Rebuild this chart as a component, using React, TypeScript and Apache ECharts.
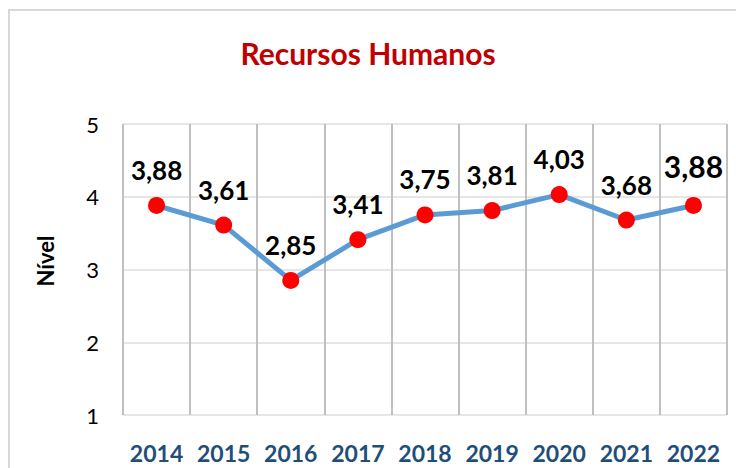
import React, { useEffect, useRef } from "react";
import * as echarts from "echarts";

const title = "Recursos Humanos";
const yAxisTitle = "Nível";
const categories = ["2014", "2015", "2016", "2017", "2018", "2019", "2020", "2021", "2022"];
const values = [3.88, 3.61, 2.85, 3.41, 3.75, 3.81, 4.03, 3.68, 3.88];
const yMin = 1;
const yMax = 5;
const yInterval = 1;

const FONT = "Lato, 'Noto Sans', sans-serif";

export default function App() {
  const ref = useRef<HTMLDivElement>(null);
  useEffect(() => {
    if (!ref.current) return;
    const chart = echarts.init(ref.current, undefined, { renderer: "svg" });
    const lastIdx = values.length - 1;
    const fmt = (v: number) => v.toFixed(2).replace(".", ",");
    chart.setOption({
      animation: false,
      backgroundColor: "#ffffff",
      title: {
        text: title,
        left: "center",
        top: 33,
        textStyle: { color: "#c00000", fontSize: 30, fontWeight: "bold", fontFamily: FONT },
      },
      graphic: [
        {
          type: "rect",
          shape: { x: 9, y: 10, width: 900, height: 700 },
          style: { fill: "none", stroke: "#d9d9d9", lineWidth: 2 },
          z: -1,
          silent: true,
        },
        {
          type: "text",
          x: 45,
          y: 261,
          rotation: Math.PI / 2,
          style: {
            text: yAxisTitle,
            fill: "#000000",
            font: `bold 22px ${FONT}`,
            align: "center",
            verticalAlign: "middle",
          },
        },
      ],
      grid: { left: 123, right: 9, top: 124, bottom: 53, containLabel: false },
      xAxis: {
        type: "category",
        data: categories,
        boundaryGap: true,
        axisLine: { show: false },
        axisTick: { show: false },
        splitLine: { show: true, interval: 0, lineStyle: { color: "#c0c0c0", width: 2 } },
        axisLabel: {
          interval: 0,
          color: "#1f4e79",
          fontSize: 23,
          fontWeight: "bold",
          fontFamily: FONT,
          margin: 26,
        },
      },
      yAxis: {
        type: "value",
        min: yMin,
        max: yMax,
        interval: yInterval,
        axisLine: { show: false },
        axisTick: { show: false },
        splitLine: { show: true, lineStyle: { color: "#e6e6e6", width: 2 } },
        axisLabel: { color: "#000000", fontSize: 22, fontFamily: FONT, margin: 24 },
      },
      series: [
        {
          type: "line",
          data: values.map((v, i) =>
            i === lastIdx
              ? {
                  value: v,
                  label: {
                    show: true,
                    position: "top",
                    distance: 16,
                    color: "#000000",
                    fontSize: 30,
                    fontWeight: "bold",
                    fontFamily: FONT,
                    formatter: () => fmt(v),
                  },
                }
              : { value: v }
          ),
          lineStyle: { color: "#5b9bd5", width: 5 },
          symbol: "circle",
          symbolSize: 17,
          itemStyle: { color: "#ff0000" },
          label: {
            show: true,
            position: "top",
            distance: 14,
            color: "#000000",
            fontSize: 26,
            fontWeight: "bold",
            fontFamily: FONT,
            formatter: (p: any) => fmt(Number(p.value)),
          },
        },
      ],
    });
    return () => chart.dispose();
  }, []);
  return (
    <div
      ref={ref}
      style={{ position: "fixed", left: 0, top: 0, width: 736, height: 468 }}
    />
  );
}
